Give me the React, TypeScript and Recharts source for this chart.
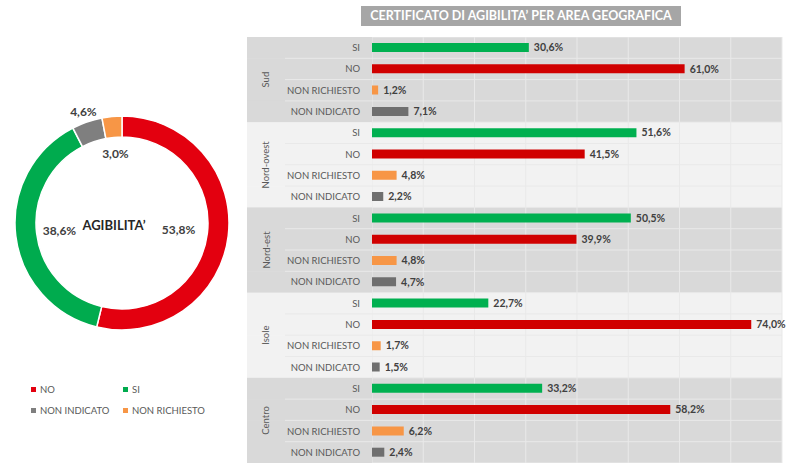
import { BarChart, Bar, XAxis, YAxis, CartesianGrid, Cell, LabelList, PieChart, Pie, Legend } from "recharts";

const regions = ["Sud", "Nord-ovest", "Nord-est", "Isole", "Centro"];
const answers = ["SI", "NO", "NON RICHIESTO", "NON INDICATO"];
const sudValues = [30.6, 61.0, 1.2, 7.1];
const nordOvestValues = [51.6, 41.5, 4.8, 2.2];
const nordEstValues = [50.5, 39.9, 4.8, 4.7];
const isoleValues = [22.7, 74.0, 1.7, 1.5];
const centroValues = [33.2, 58.2, 6.2, 2.4];
const xTicks = [0, 10, 20, 30, 40, 50, 60, 70, 80];

const pieNames = ["NO", "SI", "NON INDICATO", "NON RICHIESTO"];
const pieValues = [53.8, 38.6, 4.6, 3.0];

const regionValues = [sudValues, nordOvestValues, nordEstValues, isoleValues, centroValues];

const rows = regions.flatMap((region, ri) =>
  answers.map((answer, ai) => ({
    id: `${region}|${answer}`,
    region,
    answer,
    value: regionValues[ri][ai],
  }))
);

const pieData = pieNames.map((name, i) => ({ name, value: pieValues[i] }));

const barColors: Record<string, string> = {
  SI: "#00b050",
  NO: "#d00000",
  "NON RICHIESTO": "#f79646",
  "NON INDICATO": "#6f6f6f",
};
const pieColors: Record<string, string> = {
  NO: "#e3000f",
  SI: "#00ab4e",
  "NON INDICATO": "#7f7f7f",
  "NON RICHIESTO": "#f79646",
};
// how far from the centre each donut label sits
const pieLabelRadius: Record<string, number> = {
  NO: 57,
  SI: 63,
  "NON INDICATO": 118,
  "NON RICHIESTO": 70,
};

const DARK = "#d9d9d9";
const LIGHT = "#f2f2f2";
const LINE = "#e9e9e9";
const TEXT = "#595959";
const FONT = "Lato, 'Open Sans', sans-serif";

const CHART_W = 545;
const CHART_H = 426;
const YAXIS_W = 125;
const ROW_H = CHART_H / rows.length;

const fmt = (v: number) => `${Number(v).toFixed(1).replace(".", ",")}%`;

function RowTick(props: any) {
  const { y, payload } = props;
  const [region, answer] = String(payload.value).split("|");
  const ri = regions.indexOf(region);
  const ai = answers.indexOf(answer);
  const fill = ri % 2 === 0 ? DARK : LIGHT;
  const mid = y - ROW_H * 1.5;
  return (
    <g>
      <rect x={0} y={y - ROW_H / 2} width={YAXIS_W} height={ROW_H + 0.5} fill={fill} />
      {ai > 0 && <line x1={38} x2={YAXIS_W} y1={y - ROW_H / 2} y2={y - ROW_H / 2} stroke={LINE} />}
      <text x={YAXIS_W - 12} y={y} textAnchor="end" dominantBaseline="central" fontSize={9.5} fill={TEXT} fontFamily={FONT}>
        {answer}
      </text>
      {ai === answers.length - 1 && (
        <text
          x={19}
          y={mid}
          textAnchor="middle"
          dominantBaseline="central"
          fontSize={9.5}
          fill={TEXT}
          fontFamily={FONT}
          transform={`rotate(-90 19 ${mid})`}
        >
          {region}
        </text>
      )}
    </g>
  );
}

const RADIAN = Math.PI / 180;
function pieLabel(p: any) {
  const r = pieLabelRadius[p.name] ?? 60;
  const x = p.cx + r * Math.cos(-p.midAngle * RADIAN);
  const y = p.cy + r * Math.sin(-p.midAngle * RADIAN);
  return (
    <text x={x} y={y} textAnchor="middle" dominantBaseline="central" fontSize={12} fontWeight={700} fill="#404040" fontFamily={FONT}>
      {fmt(p.value)}
    </text>
  );
}

function PieLegend(props: any) {
  const items = [...(props.payload || [])].sort(
    (a: any, b: any) => pieNames.indexOf(a.value) - pieNames.indexOf(b.value)
  );
  return (
    <div style={{ display: "flex", flexWrap: "wrap", width: 190, fontFamily: FONT, fontSize: 9.5, color: TEXT }}>
      {items.map((it: any) => (
        <div key={it.value} style={{ width: 92, height: 21, display: "flex", alignItems: "center" }}>
          <span style={{ display: "inline-block", width: 5, height: 5, background: it.color, marginRight: 4 }} />
          {it.value}
        </div>
      ))}
    </div>
  );
}

export default function App() {
  return (
    <div style={{ position: "absolute", left: 0, top: 0, width: 791, height: 471, background: "#fff", fontFamily: FONT }}>
      <div style={{ position: "absolute", left: 0, top: 103 }}>
        <PieChart width={245} height={330} margin={{ top: 0, right: 0, bottom: 0, left: 0 }}>
          <Pie
            data={pieData}
            dataKey="value"
            nameKey="name"
            cx={122}
            cy={120}
            innerRadius={86}
            outerRadius={107}
            startAngle={90}
            endAngle={-270}
            stroke="#fff"
            strokeWidth={1.5}
            label={pieLabel}
            labelLine={false}
            isAnimationActive={false}
          >
            {pieData.map((d) => (
              <Cell key={d.name} fill={pieColors[d.name]} />
            ))}
          </Pie>
          <Legend content={<PieLegend />} wrapperStyle={{ left: 31, top: 276, width: 190 }} />
        </PieChart>
      </div>
      <div
        style={{
          position: "absolute",
          left: 64,
          top: 215,
          width: 100,
          textAlign: "center",
          fontSize: 13,
          fontWeight: 700,
          color: "#262626",
          lineHeight: "20px",
        }}
      >
        AGIBILITA’
      </div>

      <div
        style={{
          position: "absolute",
          left: 361,
          top: 6,
          width: 320,
          height: 20,
          background: "#a6a6a6",
          color: "#fff",
          fontWeight: 700,
          fontSize: 12.5,
          lineHeight: "20px",
          textAlign: "center",
        }}
      >
        CERTIFICATO DI AGIBILITA’ PER AREA GEOGRAFICA
      </div>

      <div style={{ position: "absolute", left: 247, top: 37 }}>
        <BarChart width={CHART_W} height={CHART_H} data={rows} layout="vertical" margin={{ top: 0, right: 10, bottom: 0, left: 0 }}>
          <CartesianGrid
            stroke={LINE}
            horizontalFill={[DARK, DARK, DARK, DARK, LIGHT, LIGHT, LIGHT, LIGHT]}
            fillOpacity={1}
            horizontalCoordinatesGenerator={({ offset }: any) =>
              Array.from({ length: rows.length + 1 }, (_, i) => offset.top + (i * offset.height) / rows.length)
            }
          />
          <XAxis type="number" domain={[0, 80]} ticks={xTicks} hide />
          <YAxis type="category" dataKey="id" width={YAXIS_W} tickLine={false} axisLine={false} interval={0} tick={<RowTick />} />
          <Bar dataKey="value" barSize={9} isAnimationActive={false}>
            {rows.map((r) => (
              <Cell key={r.id} fill={barColors[r.answer]} />
            ))}
            <LabelList dataKey="value" position="right" offset={5} formatter={(v: any) => fmt(v)} fontSize={10.5} fontWeight={700} fill="#404040" fontFamily={FONT} />
          </Bar>
        </BarChart>
      </div>
    </div>
  );
}
